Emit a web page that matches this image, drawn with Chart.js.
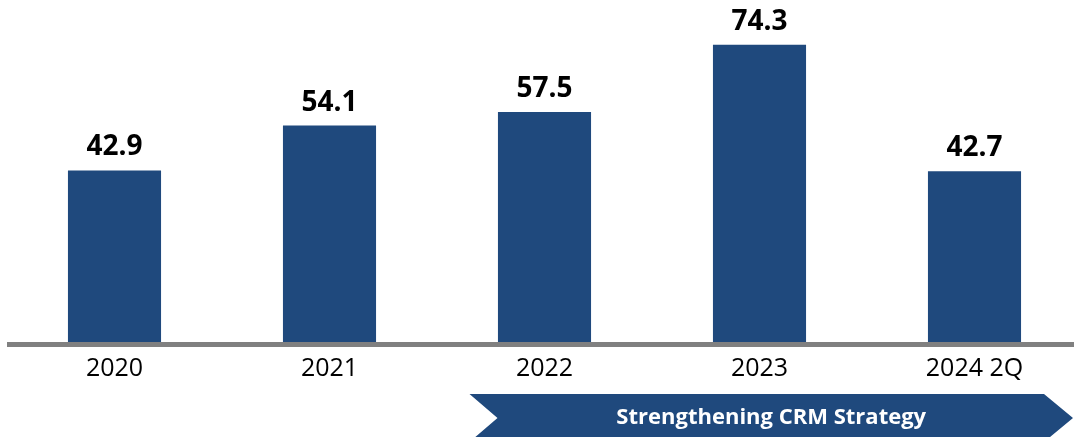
<!DOCTYPE html>
<html>
<head>
<meta charset="utf-8">
<script src="https://cdn.jsdelivr.net/npm/chart.js@4.4.1/dist/chart.umd.min.js"></script>
<style>
  html, body { margin: 0; padding: 0; background: #fff; overflow: hidden; }
  #wrap { position: relative; width: 1090px; height: 437px; }
</style>
</head>
<body>
<div id="wrap"><canvas id="crmChart"></canvas></div>
<script>
// --- data ---
const categories = ["2020", "2021", "2022", "2023", "2024 2Q"];
const values = [42.9, 54.1, 57.5, 74.3, 42.7];
const arrowLabel = "Strengthening CRM Strategy";
const arrowStartIndex = 2; // arrow begins under this category

const barColor = "#1f497d";
const axisColor = "#808080";

// value labels above each bar
const valueLabels = {
  id: "valueLabels",
  afterDatasetsDraw(chart) {
    const ctx = chart.ctx;
    const meta = chart.getDatasetMeta(0);
    ctx.save();
    ctx.font = "bold 28px 'Open Sans'";
    ctx.fillStyle = "#000";
    ctx.textAlign = "center";
    ctx.textBaseline = "alphabetic";
    meta.data.forEach((bar, i) => {
      ctx.fillText(values[i].toFixed(1), bar.x, bar.y - 15);
    });
    ctx.restore();
  },
};

// thick grey baseline plus the strategy arrow under the axis
const axisAndArrow = {
  id: "axisAndArrow",
  afterDraw(chart) {
    const ctx = chart.ctx;
    const area = chart.chartArea;
    const x = chart.scales.x;
    ctx.save();

    ctx.fillStyle = axisColor;
    ctx.fillRect(area.left, area.bottom, chart.width - area.left, 5);

    const left = x.getPixelForValue(arrowStartIndex) - 75;
    const tip = 1073;
    const top = 394;
    const mid = 418;
    const bottom = 442;
    const notch = 28;
    const head = 29;
    ctx.fillStyle = barColor;
    ctx.beginPath();
    ctx.moveTo(left, top);
    ctx.lineTo(tip - head, top);
    ctx.lineTo(tip, mid);
    ctx.lineTo(tip - head, bottom);
    ctx.lineTo(left, bottom);
    ctx.lineTo(left + notch, mid);
    ctx.closePath();
    ctx.fill();

    ctx.fillStyle = "#fff";
    ctx.font = "bold 22px 'Open Sans'";
    ctx.textAlign = "center";
    ctx.textBaseline = "middle";
    ctx.fillText(arrowLabel, (left + tip) / 2, mid);
    ctx.restore();
  },
};

const ctx = document.getElementById("crmChart").getContext("2d");
const crmChart = new Chart(ctx, {
  type: "bar",
  data: {
    labels: categories,
    datasets: [
      {
        data: values,
        backgroundColor: barColor,
        borderWidth: 0,
        barPercentage: 0.433,
        categoryPercentage: 1,
      },
    ],
  },
  options: {
    responsive: true,
    maintainAspectRatio: false,
    animation: false,
    events: [],
    layout: { padding: { left: 7, right: 8, top: 22, bottom: 41 } },
    plugins: { legend: { display: false }, tooltip: { enabled: false } },
    scales: {
      x: {
        grid: { display: false, drawTicks: false },
        border: { display: false },
        ticks: {
          color: "#000",
          font: { family: "'Open Sans'", size: 25 },
          padding: 12,
          maxRotation: 0,
        },
      },
      y: {
        display: false,
        min: 0,
        max: 80,
      },
    },
  },
  plugins: [valueLabels, axisAndArrow],
});
</script>
</body>
</html>
